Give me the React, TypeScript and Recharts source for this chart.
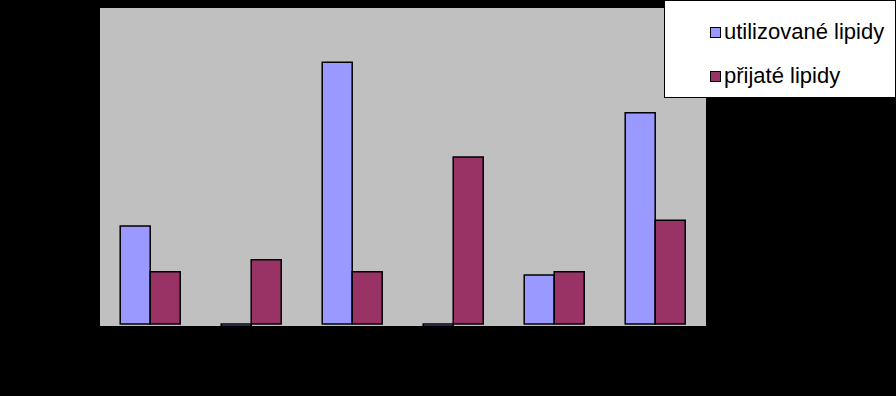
import { BarChart, Bar, XAxis, YAxis, CartesianGrid } from 'recharts'

const categories = ['1', '2', '3', '4', '5', '6']
const utilized = [18.6, -0.4, 49.7, -0.4, 9.3, 40.1]
const received = [9.9, 12.2, 9.9, 31.7, 9.9, 19.7]

const series = [
  { key: 'utilized', name: 'utilizované lipidy', color: '#9999FF' },
  { key: 'received', name: 'přijaté lipidy', color: '#993366' },
]

const data = categories.map((c, i) => ({
  cat: c,
  utilized: utilized[i],
  received: received[i],
}))

const LegendBox = () => (
  <div
    style={{
      position: 'absolute',
      left: 664,
      top: 0,
      width: 230,
      height: 96,
      background: '#fff',
      border: '1px solid #000',
      fontFamily: 'Arial, "Liberation Sans", sans-serif',
      fontSize: 22,
      color: '#000',
    }}
  >
    {series.map((s, i) => (
      <div
        key={s.key}
        style={{
          position: 'absolute',
          left: 45,
          top: 18 + i * 44,
          display: 'flex',
          alignItems: 'center',
          whiteSpace: 'nowrap',
          lineHeight: '26px',
        }}
      >
        <span
          style={{
            display: 'inline-block',
            width: 9,
            height: 9,
            background: s.color,
            border: '1px solid #000',
            marginRight: 3,
          }}
        />
        <span>{s.name}</span>
      </div>
    ))}
  </div>
)

export default function App() {
  return (
    <div style={{ position: 'absolute', left: 0, top: 0, width: 896, height: 396, background: '#000' }}>
      <BarChart
        width={896}
        height={396}
        data={data}
        margin={{ top: 8, right: 190, left: 100, bottom: 70 }}
        barGap={0}
        barCategoryGap="20%"
      >
        <CartesianGrid fill="#C0C0C0" horizontal={false} vertical={false} />
        <XAxis dataKey="cat" hide />
        <YAxis domain={[0, 60]} hide />
        {series.map((s) => (
          <Bar
            key={s.key}
            dataKey={s.key}
            name={s.name}
            fill={s.color}
            stroke="#000"
            strokeWidth={1.5}
            isAnimationActive={false}
          />
        ))}
      </BarChart>
      <LegendBox />
    </div>
  )
}
